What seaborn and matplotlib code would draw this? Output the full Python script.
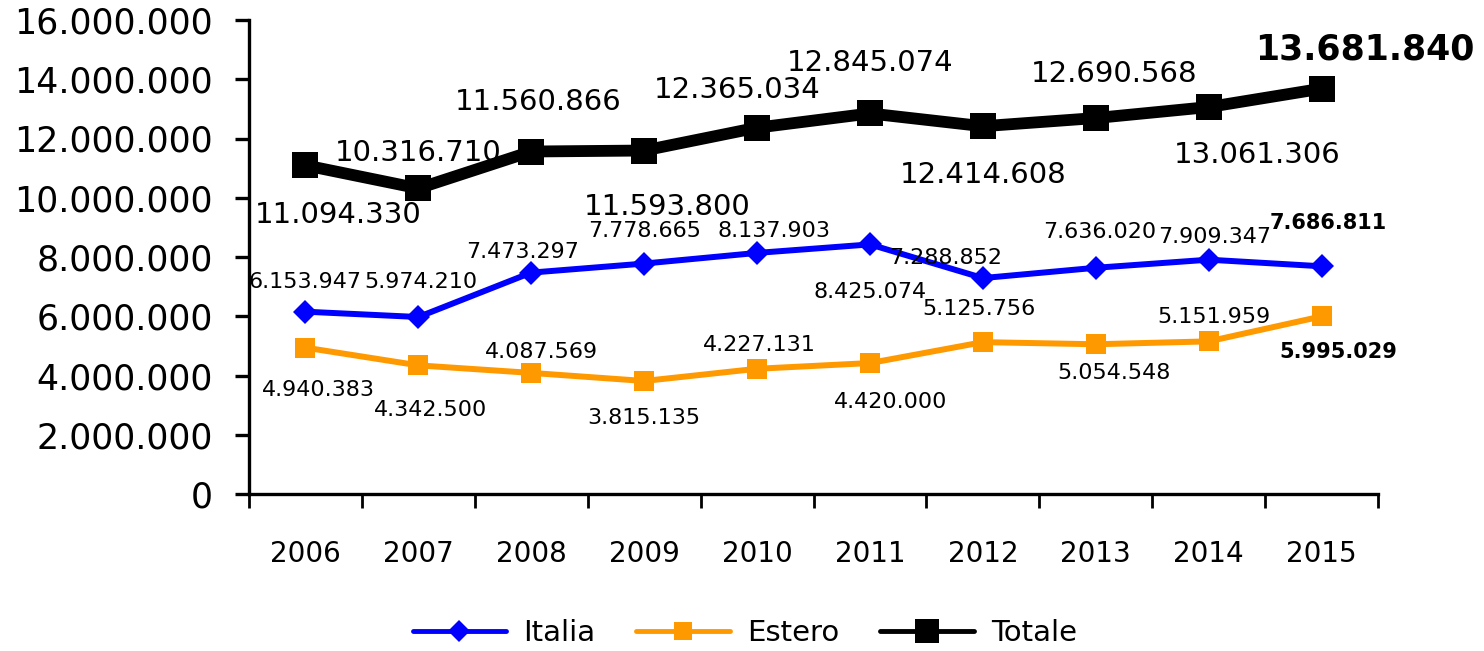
import matplotlib
matplotlib.use("Agg")
import matplotlib.pyplot as plt
import seaborn as sns
import pandas as pd
from matplotlib.ticker import FuncFormatter, FixedLocator

years = ["2006", "2007", "2008", "2009", "2010", "2011", "2012", "2013", "2014", "2015"]
italia = [6153947, 5974210, 7473297, 7778665, 8137903, 8425074, 7288852, 7636020, 7909347, 7686811]
estero = [4940383, 4342500, 4087569, 3815135, 4227131, 4420000, 5125756, 5054548, 5151959, 5995029]
totale = [11094330, 10316710, 11560866, 11593800, 12365034, 12845074, 12414608, 12690568, 13061306, 13681840]
y_ticks = [0, 2000000, 4000000, 6000000, 8000000, 10000000, 12000000, 14000000, 16000000]

# label offsets in pixels (dx, dy up) relative to each point
tot_off = [(33, -50), (0, 35), (7, 50), (23, -56), (-20, 38), (0, 50), (0, -49), (18, 44), (49, -48), (43, 39)]
ita_off = [(0, 30), (3, 35), (-9, 21), (0, 33), (17, 22), (0, -48), (-37, 20), (4, 36), (6, 23), (7, 43)]
est_off = [(13, -42), (12, -45), (10, 21), (0, -37), (2, 24), (21, -39), (-4, 33), (18, -29), (5, 24), (17, -36)]


def fmt(v):
    return f"{int(v):,}".replace(",", ".")


sns.set_style("white")
plt.rcParams["font.family"] = ["DejaVu Sans"]
plt.rcParams["text.color"] = "black"

fig = plt.figure(figsize=(14.84, 6.51), dpi=100)
ax = fig.add_axes([249 / 1484, 157 / 651, (1378 - 249) / 1484, (494 - 20) / 651])

df = pd.DataFrame({"Anno": years, "Italia": italia, "Estero": estero, "Totale": totale})

sns.lineplot(data=df, x="Anno", y="Italia", ax=ax, color="#0000FF", marker="D",
             markersize=12, linewidth=4.3, markeredgewidth=0, label="Italia", sort=False)
sns.lineplot(data=df, x="Anno", y="Estero", ax=ax, color="#FF9900", marker="s",
             markersize=15, linewidth=4.3, markeredgewidth=0, label="Estero", sort=False)
sns.lineplot(data=df, x="Anno", y="Totale", ax=ax, color="#000000", marker="s",
             markersize=19, linewidth=8.5, markeredgewidth=0, label="Totale", sort=False)

n = len(years)
for i in range(n):
    last = i == n - 1
    ax.annotate(fmt(totale[i]), xy=(i, totale[i]), xytext=tot_off[i], textcoords="offset pixels",
                ha="center", va="center", fontsize=25 if last else 21,
                fontweight="bold" if last else "normal", color="black")
    ax.annotate(fmt(italia[i]), xy=(i, italia[i]), xytext=ita_off[i], textcoords="offset pixels",
                ha="center", va="center", fontsize=15 if last else 16,
                fontweight="bold" if last else "normal", color="black")
    ax.annotate(fmt(estero[i]), xy=(i, estero[i]), xytext=est_off[i], textcoords="offset pixels",
                ha="center", va="center", fontsize=15 if last else 16,
                fontweight="bold" if last else "normal", color="black")

ax.set_xlim(-0.5, n - 0.5)
ax.set_ylim(0, 16000000)
ax.yaxis.set_major_locator(FixedLocator(y_ticks))
ax.yaxis.set_major_formatter(FuncFormatter(lambda v, p: fmt(v)))
ax.set_xlabel("")
ax.set_ylabel("")

ax.set_xticks(range(n))
ax.set_xticklabels(years)
ax.set_xticks([i - 0.5 for i in range(n + 1)], minor=True)
ax.tick_params(axis="x", which="both", bottom=True)
ax.tick_params(axis="y", which="major", left=True)
ax.tick_params(axis="x", which="major", length=0, pad=33, labelsize=20, colors="black")
ax.tick_params(axis="x", which="minor", length=10, width=2, direction="out", color="black")
ax.tick_params(axis="y", which="major", length=10, width=2.4, direction="out", pad=16,
               labelsize=25, color="black", labelcolor="black")

for s in ["top", "right"]:
    ax.spines[s].set_visible(False)
for s in ["left", "bottom"]:
    ax.spines[s].set_color("black")
    ax.spines[s].set_linewidth(2.4)
ax.grid(False)

ax.legend_.remove()
handles, labels = ax.get_legend_handles_labels()
leg = fig.legend(handles, labels, loc="center", bbox_to_anchor=(0.502, 0.028), ncol=3, frameon=False,
                 fontsize=21, handlelength=3.2, handletextpad=0.6, columnspacing=1.4, markerscale=0.9)
for line in leg.get_lines():
    line.set_linewidth(3.5)
for t in leg.get_texts():
    t.set_color("black")

fig.savefig("out.png", dpi=100)
